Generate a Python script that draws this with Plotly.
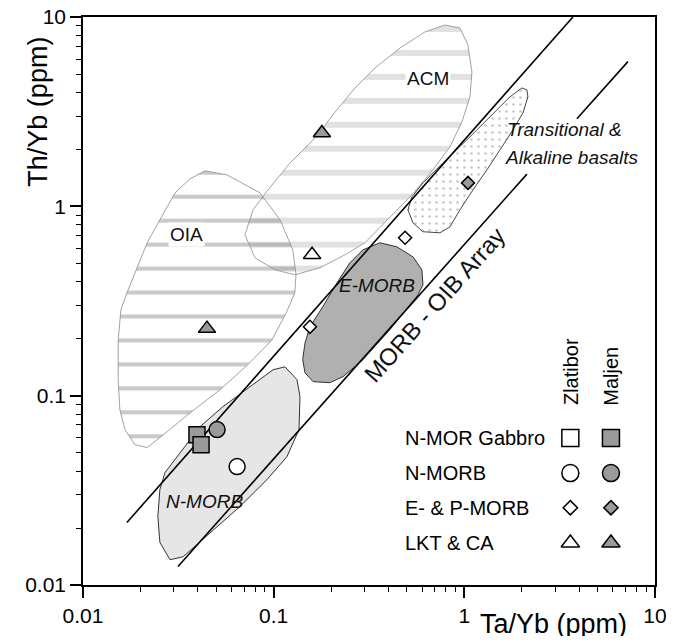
import math
import plotly.graph_objects as go

# ---------------- data ----------------
# Field polygons (Ta/Yb, Th/Yb)
oia_x = [0.0436, 0.0569, 0.0848, 0.108, 0.126, 0.131, 0.129, 0.117, 0.098, 0.0733,
         0.0523, 0.0355, 0.0253, 0.0217, 0.0187, 0.0166, 0.0156, 0.0153, 0.0153, 0.0158,
         0.0170, 0.0192, 0.0217, 0.0253, 0.0304, 0.0364]
oia_y = [1.54, 1.466, 1.178, 0.849, 0.589, 0.435, 0.349, 0.277, 0.197, 0.146,
         0.1075, 0.0794, 0.0600, 0.0532, 0.0551, 0.0662, 0.0844, 0.1215, 0.197, 0.284,
         0.349, 0.479, 0.642, 0.849, 1.178, 1.397]

acm_x = [0.0707, 0.0798, 0.1016, 0.1293, 0.175, 0.237, 0.301, 0.407, 0.531, 0.684,
         0.840, 0.971, 1.070, 1.096, 1.044, 0.948, 0.791, 0.621, 0.460, 0.340,
         0.267, 0.210, 0.165, 0.122, 0.0934, 0.0779]
acm_y = [0.707, 0.535, 0.462, 0.435, 0.474, 0.555, 0.642, 0.870, 1.150, 1.558,
         2.061, 2.792, 3.784, 5.126, 7.115, 8.749, 9.075, 8.334, 6.861, 5.381,
         4.220, 3.152, 2.298, 1.697, 1.222, 0.958]

alk_x = [2.004, 2.129, 2.155, 2.029, 1.798, 1.575, 1.314, 1.110, 0.948, 0.840,
         0.745, 0.607, 0.538, 0.506, 0.531, 0.607, 0.772, 1.032, 1.362, 1.734]
alk_y = [4.220, 4.119, 3.784, 3.114, 2.533, 2.061, 1.558, 1.222, 0.958, 0.779,
         0.725, 0.734, 0.818, 0.958, 1.122, 1.330, 1.697, 2.244, 2.966, 3.784]

emorb_x = [0.361, 0.443, 0.538, 0.599, 0.607, 0.571, 0.407, 0.294, 0.231, 0.197,
           0.161, 0.146, 0.142, 0.146, 0.155, 0.181, 0.215, 0.251, 0.294]
emorb_y = [0.642, 0.611, 0.541, 0.462, 0.385, 0.341, 0.223, 0.155, 0.126, 0.1171,
           0.1186, 0.132, 0.155, 0.190, 0.231, 0.295, 0.395, 0.503, 0.589]

nmorb_x = [0.1146, 0.1325, 0.1374, 0.1358, 0.1174, 0.0922, 0.0666, 0.0463, 0.0335, 0.0286,
           0.0253, 0.0247, 0.0253, 0.0269, 0.0323, 0.0411, 0.0542, 0.0751, 0.0992]
nmorb_y = [0.142, 0.1215, 0.0988, 0.0662, 0.0476, 0.0360, 0.0260, 0.0189, 0.0141, 0.0136,
           0.0168, 0.0230, 0.0319, 0.0392, 0.0500, 0.0686, 0.0875, 0.1115, 0.137]

# MORB-OIB array boundary lines
upper_line_x = [0.0170, 3.711]
upper_line_y = [0.0214, 10.0]
lower_line_a_x = [0.0315, 2.129]
lower_line_a_y = [0.01252, 1.48]
lower_line_b_x = [3.894, 7.208]
lower_line_b_y = [2.90, 5.81]

# Samples
zl_nmorb_x, zl_nmorb_y = [0.0643], [0.0422]
zl_emorb_x, zl_emorb_y = [0.489, 0.155], [0.682, 0.231]
zl_lkt_x, zl_lkt_y = [0.159], [0.555]
mj_gab_x, mj_gab_y = [0.0396, 0.0416], [0.0622, 0.0551]
mj_nmorb_x, mj_nmorb_y = [0.0505], [0.0662]
mj_emorb_x, mj_emorb_y = [1.045], [1.33]
mj_lkt_x, mj_lkt_y = [0.0447, 0.179], [0.226, 2.44]

# Field labels: text, Ta/Yb, Th/Yb
field_labels = [
    ("OIA", 0.0351, 0.707),
    ("ACM", 0.644, 4.76),
    ("<i>E-MORB</i>", 0.348, 0.381),
    ("<i>N-MORB</i>", 0.0436, 0.0276),
]
alk_label_lines = [("<i>Transitional &</i>", 1.633, 2.533),
                   ("<i>Alkaline basalts</i>", 1.594, 1.803)]
array_label = ("MORB - OIB Array", 0.701, 0.302)

# Legend contents
legend_rows = ["N-MOR Gabbro", "N-MORB", "E- & P-MORB", "LKT & CA"]
legend_symbols = ["square", "circle", "diamond", "triangle-up"]
legend_sizes = [17, 17, 11, 16]
legend_cols = ["Zlatibor", "Maljen"]

x_tickvals = [0.01, 0.1, 1, 10]
x_ticktext = ["0.01", "0.1", "1", "10"]
y_tickvals = [0.01, 0.1, 1, 10]
y_ticktext = ["0.01", "0.1", "1", "10"]

# ---------------- styling ----------------
GRAY = "#9a9a9a"
FONT = "Liberation Sans, Arial, Helvetica, sans-serif"
L = math.log10

fig = go.Figure()

def closed(a):
    return list(a) + [a[0]]

# ACM field (wide light stripes)
fig.add_trace(go.Scatter(
    x=closed(acm_x), y=closed(acm_y), mode="lines", fill="toself",
    line=dict(color="#8a8a8a", width=0.8), fillcolor="rgba(0,0,0,0)",
    fillpattern=dict(shape="-", size=23.96, solidity=0.25, fgcolor="#c3c3c3"),
    hoverinfo="skip", showlegend=False))
# OIA field (narrower darker stripes, on top)
fig.add_trace(go.Scatter(
    x=closed(oia_x), y=closed(oia_y), mode="lines", fill="toself",
    line=dict(color="#8a8a8a", width=0.8), fillcolor="rgba(0,0,0,0)",
    fillpattern=dict(shape="-", size=23.96, solidity=0.17, fgcolor="#969696"),
    hoverinfo="skip", showlegend=False))
# Transitional & alkaline basalts (stippled)
fig.add_trace(go.Scatter(
    x=closed(alk_x), y=closed(alk_y), mode="lines", fill="toself",
    line=dict(color="#333333", width=0.9), fillcolor="rgba(0,0,0,0)",
    fillpattern=dict(shape=".", size=7, solidity=0.12, fgcolor="#8f8f8f"),
    hoverinfo="skip", showlegend=False))
# E-MORB
fig.add_trace(go.Scatter(
    x=closed(emorb_x), y=closed(emorb_y), mode="lines", fill="toself",
    line=dict(color="#333333", width=1), fillcolor="#b0b0b0",
    hoverinfo="skip", showlegend=False))
# N-MORB
fig.add_trace(go.Scatter(
    x=closed(nmorb_x), y=closed(nmorb_y), mode="lines", fill="toself",
    line=dict(color="#333333", width=1), fillcolor="#e6e6e6",
    hoverinfo="skip", showlegend=False))

# Array lines
for lx, ly in [(upper_line_x, upper_line_y), (lower_line_a_x, lower_line_a_y),
               (lower_line_b_x, lower_line_b_y)]:
    fig.add_trace(go.Scatter(x=lx, y=ly, mode="lines",
                             line=dict(color="black", width=1.6),
                             hoverinfo="skip", showlegend=False))

def pts(x, y, symbol, size, fill):
    fig.add_trace(go.Scatter(
        x=x, y=y, mode="markers",
        marker=dict(symbol=symbol, size=size, color=fill,
                    line=dict(color="black", width=1.5)),
        showlegend=False, cliponaxis=False, hoverinfo="skip"))

pts(mj_gab_x, mj_gab_y, "square", 16, GRAY)
pts(mj_nmorb_x, mj_nmorb_y, "circle", 16, GRAY)
pts(zl_nmorb_x, zl_nmorb_y, "circle", 16, "white")
pts(zl_emorb_x, zl_emorb_y, "diamond", 10, "white")
pts(mj_emorb_x, mj_emorb_y, "diamond", 10, GRAY)
pts(zl_lkt_x, zl_lkt_y, "triangle-up", 15, "white")
pts(mj_lkt_x, mj_lkt_y, "triangle-up", 15, GRAY)

# Legend (on an overlay 0..1 axis pair)
row_y = [0.259, 0.197, 0.136, 0.074]
col_x = [0.852, 0.923]
col_fill = ["white", GRAY]
for ci, cx in enumerate(col_x):
    for ri, ry in enumerate(row_y):
        fig.add_trace(go.Scatter(
            x=[cx], y=[ry], mode="markers", xaxis="x2", yaxis="y2",
            marker=dict(symbol=legend_symbols[ri], size=legend_sizes[ri],
                        color=col_fill[ci], line=dict(color="black", width=1.5)),
            showlegend=False, hoverinfo="skip", cliponaxis=False))

annotations = []
for ri, ry in enumerate(row_y):
    annotations.append(dict(x=0.559, y=ry, xref="paper", yref="paper", text=legend_rows[ri],
                            showarrow=False, xanchor="left", yanchor="middle",
                            font=dict(size=20, color="black", family=FONT)))
for ci, cx in enumerate(col_x):
    annotations.append(dict(x=cx, y=0.313, xref="paper", yref="paper", text=legend_cols[ci],
                            showarrow=False, xanchor="center", yanchor="bottom", textangle=-90,
                            font=dict(size=20, color="black", family=FONT)))

# Field labels
for txt, fx, fy in field_labels:
    plain = not txt.startswith("<i>")
    annotations.append(dict(x=L(fx), y=L(fy), xref="x", yref="y", text=txt, showarrow=False,
                            bgcolor="white" if plain else None, borderpad=1,
                            font=dict(size=19, color="#111", family=FONT)))
for txt, fx, fy in alk_label_lines:
    annotations.append(dict(x=L(fx), y=L(fy), xref="x", yref="y", text=txt, showarrow=False,
                            xanchor="left", font=dict(size=19, color="#111", family=FONT)))
annotations.append(dict(x=L(array_label[1]), y=L(array_label[2]), xref="x", yref="y",
                        text=array_label[0], showarrow=False, textangle=-48.3,
                        font=dict(size=24, color="#111", family=FONT)))
# axis titles
annotations += [
    dict(x=0.822, y=-0.069, xref="paper", yref="paper", text="Ta/Yb (ppm)", showarrow=False,
         xanchor="center", yanchor="middle", font=dict(size=27, color="black", family=FONT)),
    dict(x=-0.079, y=0.833, xref="paper", yref="paper", text="Th/Yb (ppm)", showarrow=False,
         textangle=-90, xanchor="center", yanchor="middle",
         font=dict(size=27, color="black", family=FONT)),
]

minor_vals = [m * 10 ** e for e in (-2, -1, 0) for m in range(2, 10)]

axis_common = dict(
    type="log", range=[-2, 1], showgrid=False, zeroline=False, automargin=False,
    showline=True, linecolor="black", linewidth=1.5, mirror=True,
    ticks="outside", ticklen=11, tickwidth=1.5, tickcolor="black",
    ticklabeloverflow="allow",
    tickfont=dict(size=21, color="black", family=FONT),
    minor=dict(tickmode="array", tickvals=minor_vals, ticks="outside", ticklen=5,
               tickwidth=1.2, tickcolor="black", showgrid=False),
)

fig.update_layout(
    width=664, height=628,
    margin=dict(l=75, r=17, t=9, b=51, autoexpand=False),
    paper_bgcolor="white", plot_bgcolor="white",
    xaxis=dict(**axis_common, tickmode="array", tickvals=x_tickvals, ticktext=x_ticktext),
    yaxis=dict(**axis_common, tickmode="array", tickvals=y_tickvals, ticktext=y_ticktext),
    xaxis2=dict(overlaying="x", range=[0, 1], visible=False, fixedrange=True),
    yaxis2=dict(overlaying="y", range=[0, 1], visible=False, fixedrange=True),
    annotations=annotations,
    showlegend=False,
)

fig.write_html("out.html")
